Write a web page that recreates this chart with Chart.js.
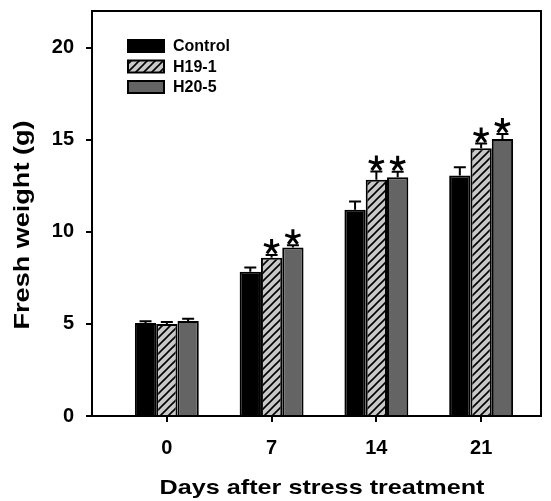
<!DOCTYPE html>
<html lang="en">
<head>
    <meta charset="UTF-8">
    <title>Fresh weight</title>
    <script src="https://cdn.jsdelivr.net/npm/chart.js"></script>
    <style>
        html, body { margin: 0; padding: 0; background: #fff; }
        #box { width: 551px; height: 501px; }
    </style>
</head>
<body>
    <div id="box"><canvas id="grafico" width="551" height="501"></canvas></div>

    <script>
        // data
        const days = [0, 7, 14, 21];
        const seriesNames = ['Control', 'H19-1', 'H20-5'];
        const control = [5.05, 7.83, 11.2, 13.06];
        const h19 = [5.0, 8.6, 12.83, 14.55];
        const h20 = [5.16, 9.15, 12.97, 15.05];
        const controlErr = [0.1, 0.23, 0.45, 0.45];
        const h19Err = [0.1, 0.15, 0.45, 0.25];
        const h20Err = [0.12, 0.12, 0.3, 0.27];
        const h19Sig = [false, true, true, true];
        const h20Sig = [false, true, true, true];
        const yTicks = [0, 5, 10, 15, 20];
        const xTitle = 'Days after stress treatment';
        const yTitle = 'Fresh weight (g)';

        const font = "'Liberation Sans', Arial, sans-serif";

        function hatch() {
            let c = document.createElement('canvas');
            c.width = 8; c.height = 8;
            let g = c.getContext('2d');
            g.fillStyle = '#c8c8c8';
            g.fillRect(0, 0, 8, 8);
            g.strokeStyle = '#000';
            g.lineWidth = 1.6;
            g.beginPath();
            g.moveTo(-2, 10); g.lineTo(10, -2);
            g.moveTo(-2, 2); g.lineTo(2, -2);
            g.moveTo(6, 10); g.lineTo(10, 6);
            g.stroke();
            return g.createPattern(c, 'repeat');
        }

        function pts(vals) {
            return days.map((d, i) => ({ x: d, y: vals[i] }));
        }

        const errs = [controlErr, h19Err, h20Err];
        const sigs = [null, h19Sig, h20Sig];

        // text a bit wider than the font, like the original figure
        function wideText(ctx, text, x, y, rot, sx) {
            ctx.save();
            ctx.translate(x, y);
            ctx.rotate(rot);
            ctx.scale(sx, 1);
            ctx.textAlign = 'center';
            ctx.textBaseline = 'middle';
            ctx.fillText(text, 0, 0);
            ctx.restore();
        }

        const extras = {
            id: 'extras',
            afterDatasetsDraw(chart) {
                const ctx = chart.ctx;
                const y = chart.scales.y;
                ctx.save();
                ctx.strokeStyle = '#000';
                ctx.lineWidth = 2;
                chart.data.datasets.forEach((ds, di) => {
                    const meta = chart.getDatasetMeta(di);
                    meta.data.forEach((bar, i) => {
                        const v = ds.data[i].y;
                        const top = y.getPixelForValue(v + errs[di][i]);
                        ctx.beginPath();
                        ctx.moveTo(bar.x, bar.y);
                        ctx.lineTo(bar.x, top);
                        ctx.moveTo(bar.x - 6, top);
                        ctx.lineTo(bar.x + 6, top);
                        ctx.stroke();
                        if (sigs[di] && sigs[di][i]) {
                            const cy = top - 8;
                            ctx.save();
                            ctx.lineWidth = 3;
                            ctx.beginPath();
                            for (let k = 0; k < 5; k++) {
                                const a = (90 + 72 * k) * Math.PI / 180;
                                ctx.moveTo(bar.x, cy);
                                ctx.lineTo(bar.x + 8 * Math.cos(a), cy - 8 * Math.sin(a));
                            }
                            ctx.stroke();
                            ctx.restore();
                        }
                    });
                });
                ctx.restore();
            },
            afterDraw(chart) {
                const ctx = chart.ctx;
                const a = chart.chartArea;
                ctx.save();
                ctx.strokeStyle = '#000';
                ctx.lineWidth = 2;
                ctx.beginPath();
                ctx.moveTo(a.left, a.top);
                ctx.lineTo(a.right, a.top);
                ctx.lineTo(a.right, a.bottom);
                ctx.stroke();
                // legend
                ctx.font = 'bold 16px ' + font;
                ctx.textBaseline = 'middle';
                chart.data.datasets.forEach((ds, i) => {
                    const bx = 128, by = 40 + i * 20.5;
                    ctx.fillStyle = ds.backgroundColor;
                    ctx.fillRect(bx, by, 36, 12);
                    ctx.lineWidth = 2;
                    ctx.strokeRect(bx, by, 36, 12);
                    ctx.fillStyle = '#000';
                    ctx.fillText(ds.label, bx + 45, by + 7);
                });
                // axis titles
                ctx.fillStyle = '#000';
                ctx.font = 'bold 21px ' + font;
                wideText(ctx, xTitle, 322, 488, 0, 1.2);
                ctx.font = 'bold 22px ' + font;
                wideText(ctx, yTitle, 23, 225, -Math.PI / 2, 1.23);
                ctx.restore();
            }
        };

        new Chart(document.getElementById('grafico'), {
            type: 'bar',
            data: {
                datasets: [
                    { label: seriesNames[0], data: pts(control), backgroundColor: '#000000' },
                    { label: seriesNames[1], data: pts(h19), backgroundColor: hatch() },
                    { label: seriesNames[2], data: pts(h20), backgroundColor: '#646464' }
                ]
            },
            options: {
                responsive: false,
                animation: false,
                devicePixelRatio: 1,
                layout: { padding: { top: 11, right: 10, left: 0, bottom: 0 } },
                datasets: {
                    bar: {
                        borderColor: '#000',
                        borderWidth: 2,
                        barPercentage: 1,
                        categoryPercentage: 0.61
                    }
                },
                plugins: {
                    legend: { display: false },
                    tooltip: { enabled: false }
                },
                scales: {
                    x: {
                        type: 'linear',
                        min: -5,
                        max: 25,
                        offset: false,
                        afterFit: s => { s.height = 85; s.paddingLeft = 0; s.paddingRight = 0; },
                        afterBuildTicks: s => { s.ticks = days.map(d => ({ value: d })); },
                        border: { display: true, color: '#000', width: 2 },
                        grid: { offset: false, drawOnChartArea: false, drawTicks: true, tickLength: 6, color: '#000', lineWidth: 2 },
                        ticks: { color: '#000', padding: 14, maxRotation: 0, font: { family: font, size: 20, weight: 'bold' } }
                    },
                    y: {
                        min: 0,
                        max: 22,
                        afterFit: s => { s.width = 92; s.paddingTop = 0; s.paddingBottom = 0; },
                        afterBuildTicks: s => { s.ticks = yTicks.map(v => ({ value: v })); },
                        border: { display: true, color: '#000', width: 2 },
                        grid: { drawOnChartArea: false, drawTicks: true, tickLength: 6, color: '#000', lineWidth: 2 },
                        ticks: { color: '#000', padding: 12, font: { family: font, size: 20, weight: 'bold' } }
                    }
                }
            },
            plugins: [extras]
        });
    </script>
</body>
</html>
